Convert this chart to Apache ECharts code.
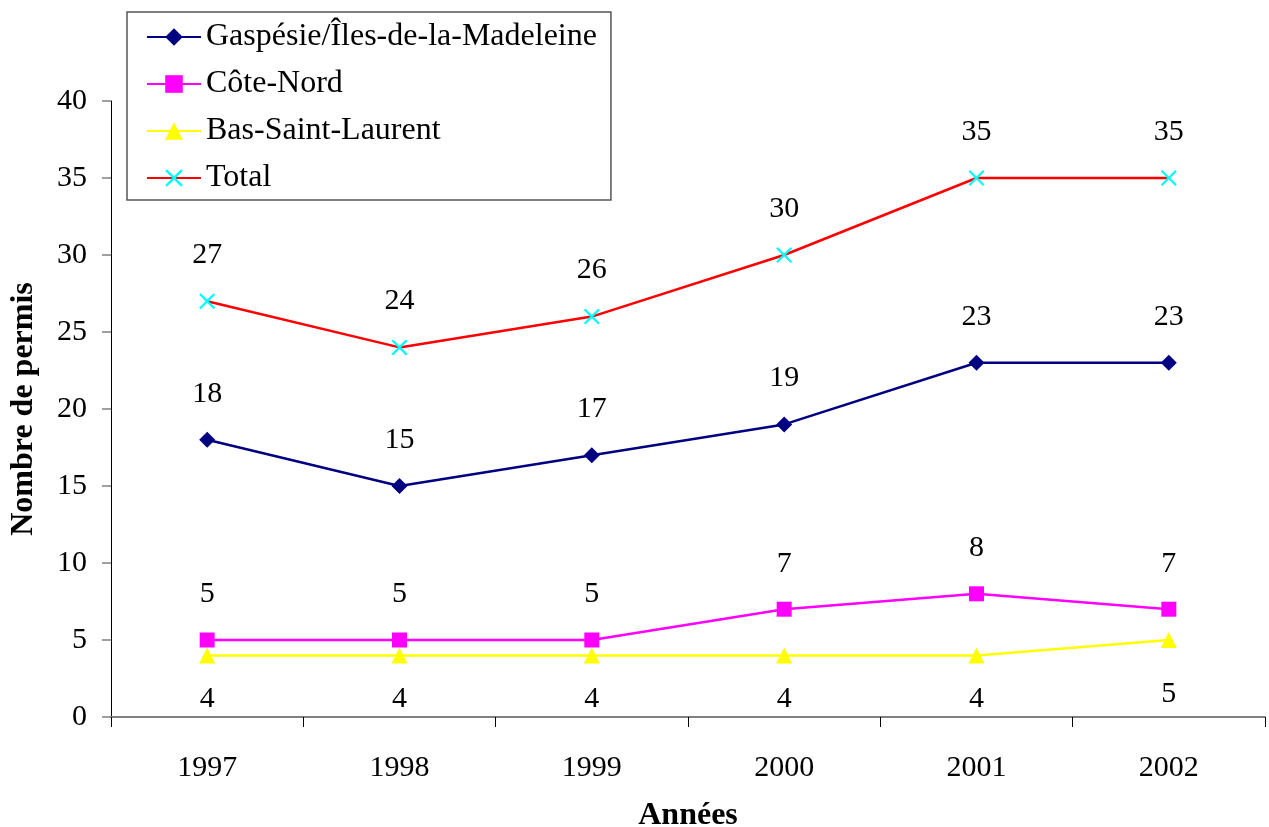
<!DOCTYPE html>
<html>
<head>
<meta charset="utf-8">
<script src="https://cdn.jsdelivr.net/npm/echarts@6/dist/echarts.min.js"></script>
<style>html,body{margin:0;padding:0;background:#fff}#c{width:1269px;height:827px}</style>
</head>
<body>
<div id="c"></div>
<script>
const years = ['1997', '1998', '1999', '2000', '2001', '2002'];
const gaspesie = [18, 15, 17, 19, 23, 23];
const coteNord = [5, 5, 5, 7, 8, 7];
const basSaintLaurent = [4, 4, 4, 4, 4, 5];
const total = [27, 24, 26, 30, 35, 35];
const yTicks = [0, 5, 10, 15, 20, 25, 30, 35, 40];

const FONT = '"Liberation Serif", "Times New Roman", serif';
const FS = 30;
const FST = 32;
const crossPath = 'path://M0,1L1,0L5,4L9,0L10,1L6,5L10,9L9,10L5,6L1,10L0,9L4,5Z';

function lbl(pos, dist) {
  return { show: true, position: pos, distance: dist, color: '#000', fontFamily: FONT, fontSize: FS };
}

const chart = echarts.init(document.getElementById('c'));
chart.setOption({
  animation: false,
  backgroundColor: '#fff',
  grid: { left: 111, right: 4, top: 101, bottom: 110, containLabel: false, outerBoundsMode: 'none' },
  legend: {
    orient: 'vertical',
    left: 127, top: 12,
    padding: [8, 14, 5, 19],
    itemWidth: 54, itemHeight: 22, itemGap: 13,
    borderColor: '#555', borderWidth: 1.5, backgroundColor: '#fff',
    textStyle: { fontFamily: FONT, fontSize: FST, color: '#000', lineHeight: 34 },
    data: ['Gaspésie/Îles-de-la-Madeleine', 'Côte-Nord', 'Bas-Saint-Laurent', 'Total']
  },
  xAxis: {
    type: 'category', data: years, boundaryGap: true,
    name: 'Années', nameLocation: 'middle', nameGap: 83,
    nameTextStyle: { fontFamily: FONT, fontSize: FST, fontWeight: 'bold', color: '#000' },
    axisLine: { lineStyle: { color: '#808080', width: 2 } },
    axisTick: { show: true, inside: false, length: 10, lineStyle: { color: '#000', width: 1 } },
    axisLabel: { fontFamily: FONT, fontSize: FS, color: '#000', margin: 36 },
    splitLine: { show: false }
  },
  yAxis: {
    type: 'value', min: 0, max: 40, interval: 5,
    name: 'Nombre de permis', nameLocation: 'middle', nameGap: 71,
    nameTextStyle: { fontFamily: FONT, fontSize: FST, fontWeight: 'bold', color: '#000' },
    axisLine: { show: true, lineStyle: { color: '#000', width: 1 } },
    axisTick: { show: true, length: 9, lineStyle: { color: '#808080', width: 1.5 } },
    axisLabel: { fontFamily: FONT, fontSize: FS, color: '#000', margin: 24,
      formatter: v => yTicks.includes(v) ? String(v) : '' },
    splitLine: { show: false }
  },
  series: [
    {
      name: 'Gaspésie/Îles-de-la-Madeleine', type: 'line', data: gaspesie,
      symbol: 'diamond', symbolSize: 16,
      lineStyle: { color: '#000080', width: 2.5 }, itemStyle: { color: '#000080' },
      label: lbl('top', 23)
    },
    {
      name: 'Côte-Nord', type: 'line', data: coteNord,
      symbol: 'rect', symbolSize: 15,
      lineStyle: { color: '#FF00FF', width: 2.5 }, itemStyle: { color: '#FF00FF' },
      label: lbl('top', 23)
    },
    {
      name: 'Bas-Saint-Laurent', type: 'line',
      data: basSaintLaurent.map((v, i) => i === basSaintLaurent.length - 1
        ? { value: v, label: { distance: 31 } } : v),
      symbol: 'triangle', symbolSize: 16,
      lineStyle: { color: '#FFFF00', width: 2.5 }, itemStyle: { color: '#FFFF00' },
      label: lbl('bottom', 21)
    },
    {
      name: 'Total', type: 'line', data: total,
      symbol: crossPath, symbolSize: 16,
      lineStyle: { color: '#FF0000', width: 2.5 }, itemStyle: { color: '#00FFFF' },
      label: lbl('top', 23)
    }
  ]
});
</script>
</body>
</html>
